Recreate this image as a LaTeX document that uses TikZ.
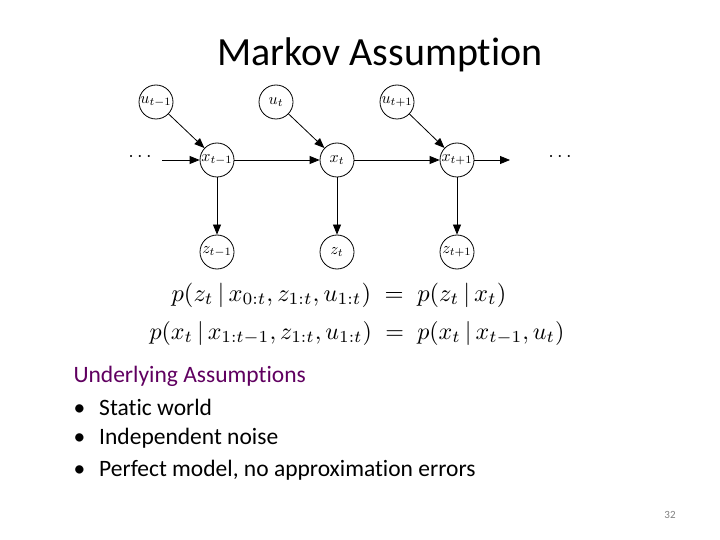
\documentclass[tikz,border=0pt]{standalone}
\usepackage{graphicx}
\usepackage{fontspec}
\setmainfont{Carlito}[Ligatures=NoCommon]
\usetikzlibrary{arrows.meta}
\begin{document}
\begin{tikzpicture}[x=1pt,y=-1pt,
  nd/.style={circle,draw,thick,minimum size=34pt,inner sep=0pt},
  ar/.style={thick,-{Triangle[length=10pt,width=8pt]}},
  body/.style={anchor=west,font=\fontsize{23.5}{26}\selectfont}]
\useasboundingbox (0,0) rectangle (720,540);
\node (title) at (380,55) {\fontsize{40}{44}\selectfont Markov Assumption};
\foreach \n/\x/\lab in {a/156/{u_{t-1}},b/276/{u_t},c/397/{u_{t+1}}}
  \node[nd] (u\n) at (\x,102) {\scalebox{1.6}{$\lab$}};
\foreach \n/\x/\lab in {a/217/{x_{t-1}},b/337/{x_t},c/457/{x_{t+1}}}
  \node[nd] (x\n) at (\x,160) {\scalebox{1.6}{$\lab$}};
\foreach \n/\x/\lab in {a/217/{z_{t-1}},b/337/{z_t},c/457/{z_{t+1}}}
  \node[nd] (z\n) at (\x,252) {\scalebox{1.6}{$\lab$}};
\node (dl) at (140,157) {\scalebox{2}{$\cdots$}};
\node (dr) at (560,157) {\scalebox{2}{$\cdots$}};
\coordinate (ls) at (162,160);
\coordinate (re) at (510,160);
\draw[ar] (ls) -- (xa);
\draw[ar] (xa) -- (xb);
\draw[ar] (xb) -- (xc);
\draw[ar] (xc) -- (re);
\foreach \n in {a,b,c}{
  \draw[ar] (u\n) -- (x\n);
  \draw[ar] (x\n) -- (z\n);}
\node (e1) at (339,295) {\scalebox{2.45}{$p(z_t\,|\,x_{0:t},z_{1:t},u_{1:t})\;=\;p(z_t\,|\,x_t)$}};
\node (e2) at (357,333) {\scalebox{2.4}{$p(x_t\,|\,x_{1:t-1},z_{1:t},u_{1:t})\;=\;p(x_t\,|\,x_{t-1},u_t)$}};
\node[body,text=violet!75!black] (h) at (70,376) {Underlying Assumptions};
\node[body] (b1) at (70,407) {•\hspace{14pt}Static world};
\node[body] (b2) at (70,438) {•\hspace{14pt}Independent noise};
\node[body] (b3) at (70,470) {•\hspace{14pt}Perfect model, no approximation errors};
\node[text=gray,font=\fontsize{11}{11}\selectfont] (pg) at (670,515) {32};
\end{tikzpicture}
\end{document}
